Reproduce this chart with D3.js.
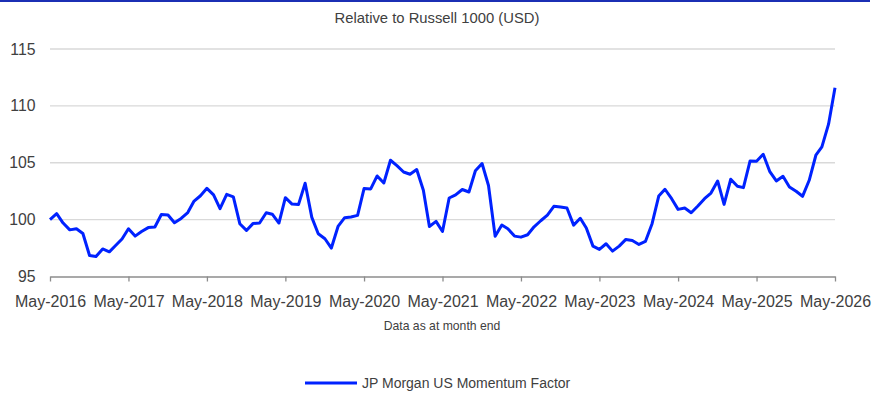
<!DOCTYPE html>
<html>
<head>
<meta charset="utf-8">
<script src="https://cdn.jsdelivr.net/npm/d3@7"></script>
<style>
  html, body { margin: 0; padding: 0; background: #fff; }
  svg { display: block; font-family: "Liberation Sans", Arial, sans-serif; }
</style>
</head>
<body>
<svg id="chart" width="873" height="394"></svg>
<script>
// Monthly index, May-2016 to May-2026 (month-end values)
const startMonth = "2016-05";
const seriesName = "JP Morgan US Momentum Factor";
const momentumValues = [
  100.0, 100.52, 99.7, 99.1, 99.2, 98.78, 96.85, 96.76, 97.42, 97.17, 97.7, 98.3,
  99.2, 98.55, 98.95, 99.3, 99.35, 100.45, 100.4, 99.72, 100.1, 100.62, 101.6, 102.1,
  102.75, 102.18, 100.96, 102.22, 102.0, 99.64, 99.05, 99.65, 99.7, 100.6, 100.48, 99.7,
  101.93, 101.37, 101.32, 103.2, 100.2, 98.76, 98.32, 97.5, 99.4, 100.17, 100.23, 100.37,
  102.73, 102.7, 103.84, 103.22, 105.22, 104.75, 104.19, 103.99, 104.4, 102.58, 99.4, 99.85,
  98.96, 101.9, 102.17, 102.65, 102.43, 104.3, 104.93, 103.0, 98.53, 99.52, 99.2, 98.55,
  98.46, 98.67, 99.37, 99.9, 100.4, 101.17, 101.1, 101.02, 99.52, 100.12, 99.27, 97.67,
  97.38, 97.88, 97.23, 97.67, 98.26, 98.17, 97.82, 98.08, 99.64, 102.07, 102.67, 101.84,
  100.9, 101.02, 100.61, 101.2, 101.84, 102.34, 103.4, 101.34, 103.55, 102.93, 102.81, 105.16,
  105.13, 105.75, 104.25, 103.4, 103.81, 102.87, 102.49, 102.05, 103.46, 105.66, 106.39, 108.39,
  111.59
];
const yTicks = [95, 100, 105, 110, 115];
const xTickYears = [2016, 2017, 2018, 2019, 2020, 2021, 2022, 2023, 2024, 2025, 2026];

const chartTitle = "Relative to Russell 1000 (USD)";
const footnote = "Data as at month end";

const svg = d3.select("#chart");

const parseMonth = d3.timeParse("%Y-%m");
const t0 = parseMonth(startMonth);
const data = momentumValues.map((v, i) => ({ date: d3.timeMonth.offset(t0, i), value: v }));

const x = d3.scaleTime()
  .domain([t0, d3.timeMonth.offset(t0, momentumValues.length - 1)])
  .range([50, 835]);
const y = d3.scaleLinear().domain([95, 115]).range([276.5, 49]);

// top rule
svg.append("rect").attr("x", 0).attr("y", 0).attr("width", 870).attr("height", 2)
  .attr("fill", "#1b2fb4");

// title
svg.append("text").attr("x", 437).attr("y", 23).attr("text-anchor", "middle")
  .attr("font-size", 14.8).attr("fill", "#404040").text(chartTitle);

// horizontal gridlines
svg.append("g").selectAll("line").data(yTicks.filter(d => d !== 95)).join("line")
  .attr("x1", 50).attr("x2", 835)
  .attr("y1", d => y(d)).attr("y2", d => y(d))
  .attr("stroke", "#d9d9d9").attr("stroke-width", 1.3);

// y labels
svg.append("g").selectAll("text").data(yTicks).join("text")
  .attr("x", 35.5).attr("y", d => y(d) + 5.5)
  .attr("text-anchor", "end").attr("font-size", 15.8).attr("fill", "#404040")
  .text(d => d);

// x axis
const xTicks = xTickYears.map(yr => new Date(yr, 4, 1));
const xAxis = d3.axisBottom(x).tickValues(xTicks).tickSize(5).tickSizeOuter(0)
  .tickFormat(d3.timeFormat("%b-%Y"));
const gx = svg.append("g").attr("transform", `translate(0,${y(95)})`).call(xAxis);
gx.select(".domain").attr("stroke", "#8c8c8c").attr("stroke-width", 1.3);
gx.selectAll(".tick line").attr("stroke", "#8c8c8c").attr("stroke-width", 1.3);
gx.selectAll(".tick text").attr("font-size", 16).attr("fill", "#404040")
  .attr("font-family", "Liberation Sans, Arial, sans-serif").attr("dy", "1.4em");

// series line
const line = d3.line().x(d => x(d.date)).y(d => y(d.value));
svg.append("path").datum(data).attr("d", line)
  .attr("fill", "none").attr("stroke", "#0022ff").attr("stroke-width", 3)
  .attr("stroke-linejoin", "round");

// footnote
svg.append("text").attr("x", 442).attr("y", 330).attr("text-anchor", "middle")
  .attr("font-size", 12.2).attr("fill", "#404040").text(footnote);

// legend
const lg = svg.append("g");
lg.append("line").attr("x1", 305).attr("x2", 357).attr("y1", 383).attr("y2", 383)
  .attr("stroke", "#0022ff").attr("stroke-width", 3);
lg.append("text").attr("x", 362).attr("y", 388).attr("font-size", 14)
  .attr("fill", "#404040").text(seriesName);
</script>
</body>
</html>
